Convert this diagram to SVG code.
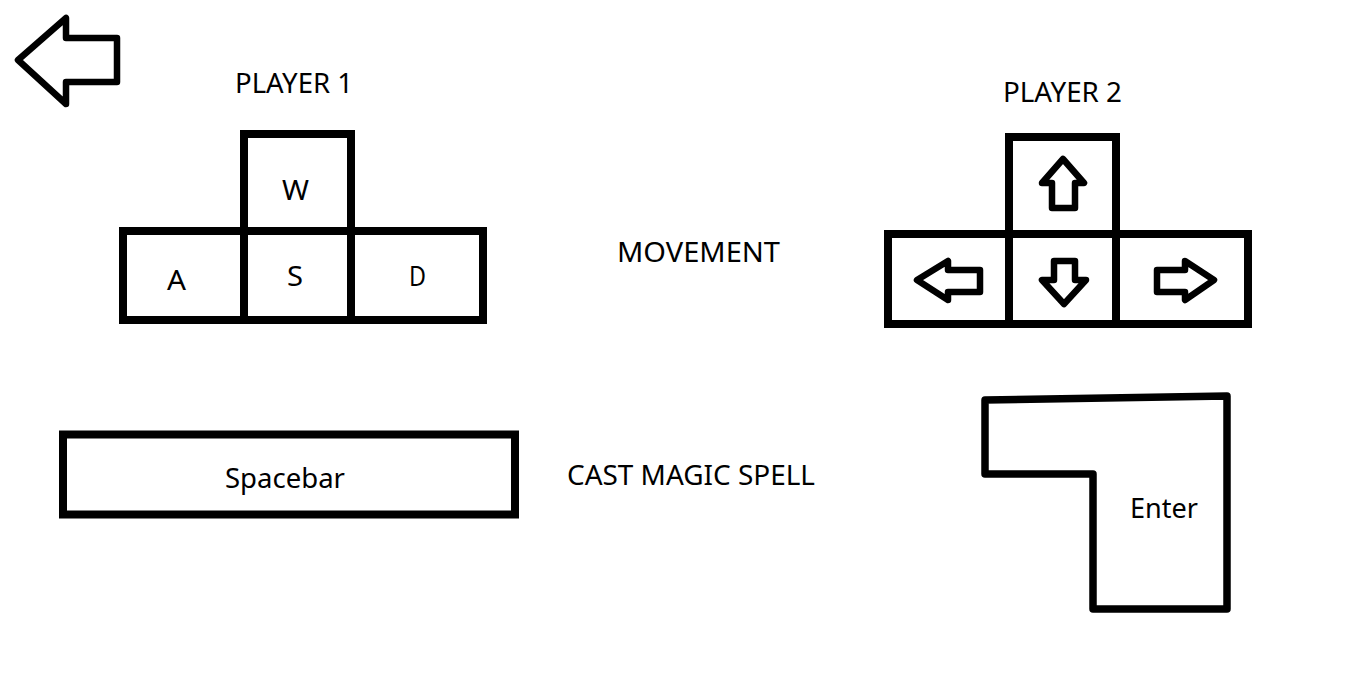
<svg xmlns="http://www.w3.org/2000/svg" width="1347" height="678" viewBox="0 0 1347 678">
<style>
.k{fill:#fff;stroke:#000;stroke-width:8}
.ic{fill:#fff;stroke:#000;stroke-width:6.5;stroke-linejoin:round}
.t{font-family:"Noto Sans","Open Sans","Liberation Sans",sans-serif;font-size:28px;fill:#000}
</style>
<rect width="1347" height="678" fill="#fff"/>
<g id="back-arrow">
<path class="ic" d="M18,60 L66,18 L66,38 L117,38 L117,82 L66,82 L66,104 Z"/>
</g>
<g id="player1-label"><text class="t" x="235" y="93" textLength="118" lengthAdjust="spacingAndGlyphs">PLAYER 1</text></g>
<g id="player2-label"><text class="t" x="1003" y="102" textLength="119" lengthAdjust="spacingAndGlyphs">PLAYER 2</text></g>
<g id="key-w">
<rect class="k" x="244" y="134" width="107" height="97"/>
<text class="t" x="282" y="200" textLength="27" lengthAdjust="spacingAndGlyphs">W</text>
</g>
<g id="key-a">
<rect class="k" x="123" y="231" width="121" height="89"/>
<text class="t" x="167" y="290" textLength="19" lengthAdjust="spacingAndGlyphs">A</text>
</g>
<g id="key-s">
<rect class="k" x="244" y="231" width="107" height="89"/>
<text class="t" x="287" y="286" textLength="16" lengthAdjust="spacingAndGlyphs">S</text>
</g>
<g id="key-d">
<rect class="k" x="351" y="231" width="132" height="89"/>
<text class="t" x="409" y="286" textLength="17" lengthAdjust="spacingAndGlyphs">D</text>
</g>
<g id="movement-label"><text class="t" x="617" y="262" textLength="163" lengthAdjust="spacingAndGlyphs">MOVEMENT</text></g>
<g id="key-up">
<rect class="k" x="1009" y="137" width="107" height="97"/>
<path class="ic" d="M1063,159 L1084,183 L1075,183 L1075,208 L1052,208 L1052,183 L1042,183 Z"/>
</g>
<g id="key-left">
<rect class="k" x="888" y="234" width="121" height="90"/>
<path class="ic" d="M917,280 L948,261 L948,270 L980,270 L980,292 L948,292 L948,300 Z"/>
</g>
<g id="key-down">
<rect class="k" x="1009" y="234" width="107" height="90"/>
<path class="ic" d="M1054,261 L1075,261 L1075,280 L1086,280 L1064,304 L1042,280 L1054,280 Z"/>
</g>
<g id="key-right">
<rect class="k" x="1116" y="234" width="132" height="90"/>
<path class="ic" d="M1157,270 L1185,270 L1185,261 L1214,280 L1185,300 L1185,292 L1157,292 Z"/>
</g>
<g id="key-spacebar">
<rect class="k" x="63" y="434.5" width="452" height="80"/>
<text class="t" x="225" y="488" textLength="120" lengthAdjust="spacingAndGlyphs">Spacebar</text>
</g>
<g id="cast-label"><text class="t" x="567" y="485" textLength="248" lengthAdjust="spacingAndGlyphs">CAST MAGIC SPELL</text></g>
<g id="key-enter">
<path d="M985,400 L1227,396 L1227,609 L1093,609 L1093,474 L985,474 Z" fill="#fff" stroke="#000" stroke-width="7.5" stroke-linejoin="round"/>
<text class="t" x="1130" y="518" textLength="68" lengthAdjust="spacingAndGlyphs">Enter</text>
</g>
<g id="connectors"></g>
</svg>
